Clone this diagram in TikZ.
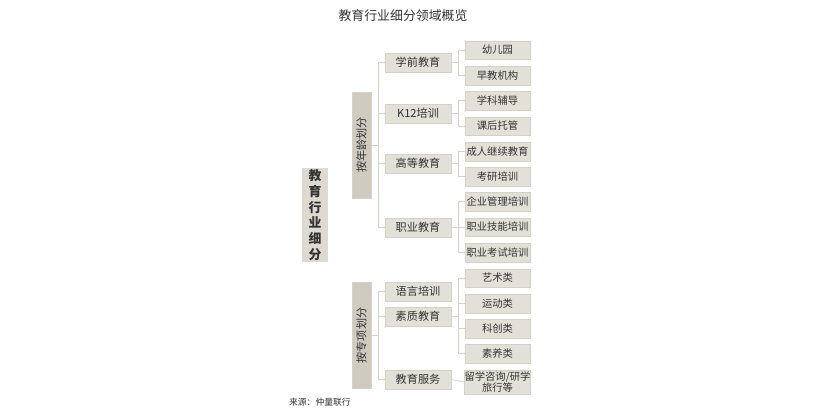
\documentclass[tikz,border=0pt]{standalone}
\usepackage{fontspec}
\setmainfont{Noto Sans CJK SC}
\usepackage{tikz}

\definecolor{rootfill}{HTML}{DEDAD1}
\definecolor{groupfill}{HTML}{CFCBC1}
\definecolor{boxfill}{HTML}{E3E0D8}
\definecolor{boxedge}{HTML}{D5D1C7}
\definecolor{connline}{HTML}{D6D2C8}
\definecolor{inkgray}{HTML}{333333}

\begin{document}
\begin{tikzpicture}[
    x=0.03cm,
    y=-0.03cm,
    text=inkgray,
    rootbox/.style={
        fill=rootfill,
        inner sep=0pt,
        minimum width=0.78cm,
        minimum height=2.82cm,
        align=center,
        font=\fontsize{11}{13.4}\selectfont\bfseries
    },
    groupbox/.style={
        fill=groupfill,
        draw=boxedge,
        inner sep=0pt,
        minimum width=0.57cm,
        minimum height=3.18cm,
        font=\fontsize{9.5}{11}\selectfont
    },
    catbox/.style={
        fill=boxfill,
        draw=boxedge,
        inner sep=0pt,
        minimum width=1.98cm,
        minimum height=0.57cm,
        font=\fontsize{9.5}{11}\selectfont
    },
    leafbox/.style={
        fill=boxfill,
        draw=boxedge,
        inner sep=0pt,
        minimum width=1.95cm,
        minimum height=0.555cm,
        align=center,
        font=\fontsize{8.8}{9.6}\selectfont
    },
    conn/.style={
        draw=connline,
        line width=0.7pt
    }
]
\useasboundingbox (0,0) rectangle (833,417);

% Title
\node (title) at (403,16) {\fontsize{11}{13}\selectfont 教育行业细分领域概览};

% Root
\node[rootbox] (root) at (315,215) {教\\育\\行\\业\\细\\分};

% Two ways of dividing
\node[groupbox] (byage) at (361.5,145) {\rotatebox{90}{按年龄划分}};
\node[groupbox] (bytopic) at (361.5,335.5) {\rotatebox{90}{按专项划分}};

% Second level
\node[catbox] (preschool) at (418,62.5) {学前教育};
\node[catbox] (ktwelve) at (418,113.5) {K12培训};
\node[catbox] (higher) at (418,163.5) {高等教育};
\node[catbox] (vocational) at (418,227.5) {职业教育};
\node[catbox] (language) at (418,291.5) {语言培训};
\node[catbox] (quality) at (418,316.5) {素质教育};
\node[catbox] (service) at (418,379.5) {教育服务};

% Leaves
\node[leafbox] (kinder) at (497.5,50) {幼儿园};
\node[leafbox] (early) at (497.5,75.5) {早教机构};
\node[leafbox] (tutor) at (497.5,100.5) {学科辅导};
\node[leafbox] (afterschool) at (497.5,126) {课后托管};
\node[leafbox] (adult) at (497.5,151.5) {成人继续教育};
\node[leafbox] (postgrad) at (497.5,176.5) {考研培训};
\node[leafbox] (mgmt) at (497.5,201.5) {企业管理培训};
\node[leafbox] (skill) at (497.5,227) {职业技能培训};
\node[leafbox] (exam) at (497.5,252.5) {职业考试培训};
\node[leafbox] (art) at (497.5,278) {艺术类};
\node[leafbox] (sport) at (497.5,303.5) {运动类};
\node[leafbox] (science) at (497.5,328.5) {科创类};
\node[leafbox] (literacy) at (497.5,353.5) {素养类};
\node[leafbox, minimum height=0.72cm] (abroad) at (497.5,382) {留学咨询/研学\\旅行等};

% Source
\node[anchor=west, font=\fontsize{7.5}{9}\selectfont] (source) at (285,402) {来源：仲量联行};

% Group to second level
\draw[conn] (byage.east) -- ++(7,0) coordinate (agebus);
\foreach \c in {preschool,ktwelve,higher,vocational}
    \draw[conn] (agebus) |- (\c.west);

\draw[conn] (bytopic.east) -- ++(7,0) coordinate (topicbus);
\foreach \c in {language,quality,service}
    \draw[conn] (topicbus) |- (\c.west);

% Second level to leaves
\draw[conn] (preschool.east) -- ++(7,0) coordinate (prebus);
\foreach \l in {kinder,early}
    \draw[conn] (prebus) |- (\l.west);

\draw[conn] (ktwelve.east) -- ++(7,0) coordinate (kbus);
\foreach \l in {tutor,afterschool}
    \draw[conn] (kbus) |- (\l.west);

\draw[conn] (higher.east) -- ++(7,0) coordinate (hibus);
\foreach \l in {adult,postgrad}
    \draw[conn] (hibus) |- (\l.west);

\draw[conn] (vocational.east) -- ++(7,0) coordinate (vocbus);
\foreach \l in {mgmt,skill,exam}
    \draw[conn] (vocbus) |- (\l.west);

\draw[conn] (quality.east) -- ++(7,0) coordinate (qualbus);
\foreach \l in {art,sport,science,literacy}
    \draw[conn] (qualbus) |- (\l.west);

\draw[conn] (service.east) -- (abroad.west);

\end{tikzpicture}
\end{document}
